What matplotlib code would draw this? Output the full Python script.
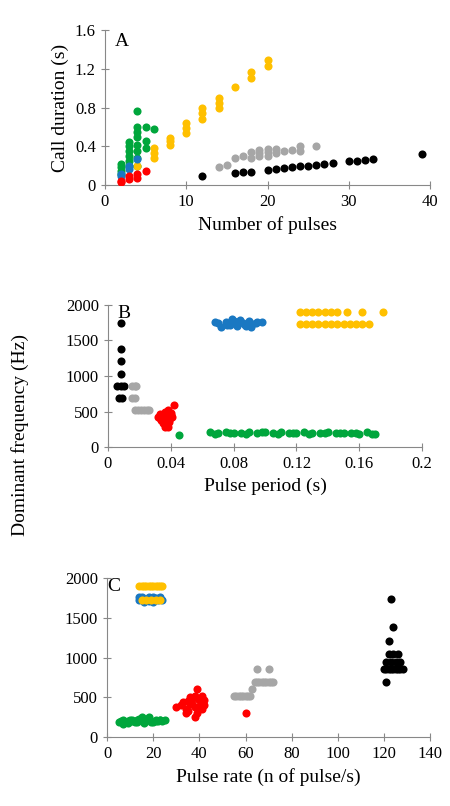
import matplotlib
matplotlib.use("Agg")
import matplotlib.pyplot as plt

plt.rcParams['font.family'] = ['Liberation Serif', 'DejaVu Serif']

COL = {'green': '#00a63c', 'blue': '#1a78c2', 'yellow': '#ffc000', 'red': '#ff0000', 'gray': '#a6a6a6', 'black': '#000000'}

# Panel A: number of pulses vs call duration
A_green_x = [2,2,2,2,3,3,3,3,3,3,4,4,4,4,4,4,4,4,5,5,5,6]
A_green_y = [0.12,0.15,0.19,0.22,0.2,0.25,0.3,0.35,0.4,0.45,0.2,0.28,0.35,0.42,0.5,0.55,0.6,0.76,0.6,0.46,0.38,0.58]
A_blue_x = [2,2,3,3,4]
A_blue_y = [0.1,0.12,0.17,0.2,0.27]
A_yellow_x = [4,6,6,6,8,8,8,10,10,10,12,12,12,14,14,14,16,18,18,20,20]
A_yellow_y = [0.2,0.28,0.33,0.38,0.42,0.46,0.49,0.54,0.59,0.64,0.68,0.74,0.8,0.8,0.85,0.9,1.01,1.1,1.17,1.23,1.29]
A_red_x = [2,2,3,3,4,4,5]
A_red_y = [0.03,0.05,0.07,0.1,0.08,0.12,0.15]
A_gray_x = [14,15,16,17,18,18,19,19,19,20,20,20,21,21,22,23,24,24,26]
A_gray_y = [0.19,0.21,0.28,0.3,0.28,0.34,0.3,0.33,0.36,0.3,0.34,0.37,0.33,0.37,0.35,0.36,0.35,0.4,0.4]
A_black_x = [12,16,17,18,20,21,22,23,24,25,26,27,28,30,31,32,33,39]
A_black_y = [0.1,0.13,0.14,0.14,0.16,0.17,0.18,0.19,0.2,0.2,0.21,0.22,0.23,0.25,0.25,0.26,0.27,0.32]

# Panel B: pulse period vs dominant frequency
B_black_x = [0.008,0.008,0.008,0.008,0.006,0.008,0.010,0.007,0.009]
B_black_y = [1740,1380,1210,1030,860,860,860,690,690]
B_gray_x = [0.015,0.017,0.018,0.015,0.017,0.017,0.019,0.021,0.023,0.025,0.026]
B_gray_y = [860,860,860,690,690,520,520,520,520,520,520]
B_red_x = [0.032,0.034,0.035,0.036,0.037,0.038,0.039,0.040,0.033,0.035,0.037,0.039,0.041,0.036,0.038,0.040,0.036,0.038,0.039,0.042,0.034,0.036]
B_red_y = [430,380,340,330,310,350,400,450,470,450,420,380,420,500,520,480,280,290,360,600,390,460]
B_green_x = [0.045,0.065,0.07,0.075,0.08,0.085,0.09,0.095,0.1,0.105,0.11,0.115,0.12,0.125,0.13,0.135,0.14,0.145,0.15,0.155,0.16,0.165,0.17,0.068,0.078,0.088,0.098,0.108,0.118,0.128,0.138,0.148,0.158,0.168]
B_green_y = [170,210,200,210,205,200,215,200,220,195,210,205,200,215,205,200,210,195,200,205,190,215,180,190,200,190,210,185,200,190,205,195,205,185]
B_blue_x = [0.068,0.072,0.075,0.078,0.08,0.082,0.084,0.086,0.088,0.09,0.092,0.095,0.098,0.07,0.076,0.079,0.083,0.087,0.091,0.094]
B_blue_y = [1760,1690,1760,1720,1770,1700,1790,1740,1700,1770,1730,1760,1760,1740,1720,1800,1760,1720,1690,1750]
B_yellow_x = [0.122,0.126,0.13,0.134,0.138,0.142,0.146,0.15,0.154,0.158,0.162,0.166,0.122,0.126,0.13,0.134,0.138,0.142,0.146,0.152,0.162,0.175]
B_yellow_y = [1730]*12 + [1900]*10

# Panel C: pulse rate vs dominant frequency
C_green_x = [5,6,7,8,9,10,11,12,13,14,15,16,17,18,19,20,21,22,23,24,25,7,9,11,13,15,17,19,21,23]
C_green_y = [190,200,210,190,200,220,200,190,210,230,200,180,210,250,200,190,210,200,220,200,210,170,180,220,190,250,230,190,200,210]
C_blue_x = [14,15,16,17,18,19,20,21,22,23,14,16,18,20,22,24]
C_blue_y = [1720,1760,1700,1740,1760,1720,1700,1750,1720,1760,1760,1730,1710,1760,1740,1730]
C_yellow_x = [14,15,16,17,18,19,20,21,22,23,24,15,17,19,21,23]
C_yellow_y = [1900]*11 + [1730]*5
C_red_x = [30,32,34,35,36,37,38,39,40,41,42,33,35,37,39,41,34,36,38,40,42,38,60]
C_red_y = [380,400,350,450,500,420,380,300,460,520,400,440,330,480,600,350,300,420,520,380,460,250,300]
C_gray_x = [55,56,57,58,59,60,61,62,63,64,65,66,67,68,69,70,71,72,65,70]
C_gray_y = [520,520,520,520,520,520,520,520,600,690,690,690,690,690,690,690,690,690,860,860]
C_black_x = [120,121,122,123,124,125,126,127,128,121,123,125,127,122,124,126,122,124,121,123]
C_black_y = [860,860,860,860,860,860,860,860,860,950,950,950,950,1040,1040,1040,1210,1380,690,1740]

fig = plt.figure(figsize=(4.5, 8.06), dpi=100)
axA = fig.add_axes([0.233, 0.770, 0.723, 0.193])
axB = fig.add_axes([0.240, 0.445, 0.698, 0.177])
axC = fig.add_axes([0.238, 0.0856, 0.718, 0.197])

ms = 34
def sc(ax, x, y, c, **kw):
    ax.scatter(x, y, s=ms, color=COL[c], linewidths=0, zorder=3, **kw)

sc(axA, A_green_x, A_green_y, 'green')
sc(axA, A_yellow_x, A_yellow_y, 'yellow')
sc(axA, A_blue_x, A_blue_y, 'blue')
sc(axA, A_red_x, A_red_y, 'red')
sc(axA, A_gray_x, A_gray_y, 'gray')
sc(axA, A_black_x, A_black_y, 'black')
axA.set_xlim(0, 40); axA.set_ylim(0, 1.6)
axA.set_xticks([0,10,20,30,40]); axA.set_yticks([0,0.4,0.8,1.2,1.6])
axA.set_yticklabels(['0','0.4','0.8','1.2','1.6'])
axA.set_xlabel('Number of pulses', fontsize=14)
axA.set_ylabel('Call duration (s)', fontsize=14)
axA.text(0.03, 0.98, 'A', transform=axA.transAxes, fontsize=14, va='top')

sc(axB, B_black_x, B_black_y, 'black')
sc(axB, B_gray_x, B_gray_y, 'gray')
sc(axB, B_red_x, B_red_y, 'red')
sc(axB, B_green_x, B_green_y, 'green')
sc(axB, B_blue_x, B_blue_y, 'blue')
sc(axB, B_yellow_x, B_yellow_y, 'yellow')
axB.set_xlim(0, 0.2); axB.set_ylim(0, 2000)
axB.set_xticks([0,0.04,0.08,0.12,0.16,0.2])
axB.set_xticklabels(['0','0.04','0.08','0.12','0.16','0.2'])
axB.set_yticks([0,500,1000,1500,2000])
axB.set_xlabel('Pulse period (s)', fontsize=14)
axB.text(0.03, 1.0, 'B', transform=axB.transAxes, fontsize=14, va='top')

sc(axC, C_green_x, C_green_y, 'green')
sc(axC, C_blue_x, C_blue_y, 'blue')
sc(axC, C_yellow_x, C_yellow_y, 'yellow')
sc(axC, C_red_x, C_red_y, 'red')
sc(axC, C_gray_x, C_gray_y, 'gray')
sc(axC, C_black_x, C_black_y, 'black')
axC.set_xlim(0, 140); axC.set_ylim(0, 2000)
axC.set_xticks(range(0, 141, 20)); axC.set_yticks([0,500,1000,1500,2000])
axC.set_xlabel('Pulse rate (n of pulse/s)', fontsize=14)
axC.text(0.0, 1.0, 'C', transform=axC.transAxes, fontsize=14, va='top')

fig.text(0.025, 0.46, 'Dominant frequency (Hz)', rotation=90, fontsize=14, va='center')

for ax in (axA, axB, axC):
    for s in ('top', 'right'):
        ax.spines[s].set_visible(False)
    ax.spines['left'].set_color('#888888'); ax.spines['bottom'].set_color('#888888')
    ax.tick_params(labelsize=12, color='#888888', direction='inout', length=6)

fig.savefig('out.png', dpi=100)
